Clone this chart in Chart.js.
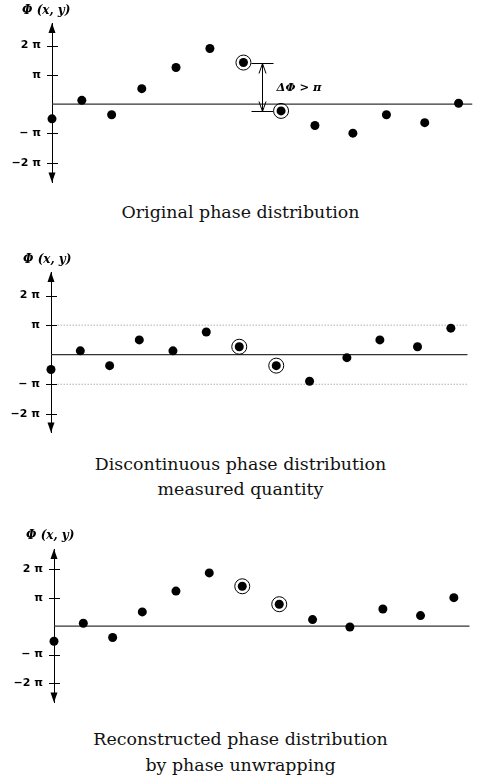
<!DOCTYPE html>
<html>
<head>
<meta charset="utf-8">
<script src="https://cdn.jsdelivr.net/npm/chart.js@4"></script>
<style>
  body { margin: 0; background: #fff; width: 481px; height: 780px; position: relative; overflow: hidden; }
  canvas { position: absolute; left: 0; }
  .caption { position: absolute; left: 0; width: 481px; text-align: center; font-family: 'DejaVu Serif', serif; font-size: 17.4px; color: #111; }
</style>
</head>
<body>
<canvas id="original" width="481" height="200" style="top:0"></canvas>
<div class="caption" style="top:200px; line-height:24px">Original phase distribution</div>

<canvas id="wrapped" width="481" height="200" style="top:250px"></canvas>
<div class="caption" style="top:452px; line-height:25px">Discontinuous phase distribution<br>measured quantity</div>

<canvas id="unwrapped" width="481" height="200" style="top:520px"></canvas>
<div class="caption" style="top:726px; line-height:26px">Reconstructed phase distribution<br>by phase unwrapping</div>

<script>
'use strict';

// sample positions along x (same for all three panels)
let samplePos = [0, 0.88, 1.76, 2.65, 3.66, 4.66, 5.65, 6.76, 7.76, 8.88, 9.87, 11.0, 12.0];

// phase values, in multiples of pi
let originalPhase = [-0.5, 0.13, -0.36, 0.53, 1.25, 1.9, 1.42, -0.23, -0.73, -0.99, -0.36, -0.63, 0.03];
let wrappedPhase = [-0.5, 0.13, -0.37, 0.5, 0.13, 0.77, 0.27, -0.37, -0.9, -0.1, 0.5, 0.27, 0.9];
let unwrappedPhase = [-0.53, 0.1, -0.4, 0.5, 1.23, 1.87, 1.4, 0.77, 0.23, -0.03, 0.6, 0.37, 1.0];

// the two neighbouring samples that are circled
let circled = [6, 7];

// y ticks
let tickValues = [-2, -1, 1, 2];
let tickLabels = ['\u22122 \u03c0', '\u2212 \u03c0', '\u03c0', '2 \u03c0'];

let axisLabel = '\u03a6 (x, y)';
let jumpLabel = '\u0394\u03a6 > \u03c0';


// arrows, tick crosses, axis label, jump annotation
let decor = {
  id: 'decor',
  afterDraw(chart, args, opts) {
    let ctx = chart.ctx;
    let area = chart.chartArea;
    let xs = chart.scales.x;
    let ys = chart.scales.y;
    let ax = area.left;
    ctx.save();
    ctx.fillStyle = '#000';
    ctx.strokeStyle = '#000';
    ctx.lineWidth = 1;

    // arrow heads on the y axis
    ctx.beginPath();
    ctx.moveTo(ax, area.top);
    ctx.lineTo(ax - 3.5, area.top + 10);
    ctx.lineTo(ax + 3.5, area.top + 10);
    ctx.closePath();
    ctx.fill();
    ctx.beginPath();
    ctx.moveTo(ax, area.bottom);
    ctx.lineTo(ax - 3.5, area.bottom - 10);
    ctx.lineTo(ax + 3.5, area.bottom - 10);
    ctx.closePath();
    ctx.fill();

    // tick marks crossing the axis
    tickValues.forEach(v => {
      let y = Math.round(ys.getPixelForValue(v)) + 0.5;
      ctx.beginPath();
      ctx.moveTo(ax - 5, y);
      ctx.lineTo(ax + 6, y);
      ctx.stroke();
    });

    // axis label
    ctx.font = 'bold italic 12px "DejaVu Serif"';
    ctx.textBaseline = 'middle';
    ctx.textAlign = 'left';
    ctx.fillText(axisLabel, opts.labelX, opts.labelY);

    if (opts.jump) {
      let v = opts.values;
      let i = circled[0];
      let j = circled[1];
      let y1 = Math.round(ys.getPixelForValue(v[i])) + 0.5;
      let y2 = Math.round(ys.getPixelForValue(v[j])) + 0.5;
      let xa = Math.round(xs.getPixelForValue(samplePos[i])) + 19.5;
      ctx.beginPath();
      ctx.moveTo(xs.getPixelForValue(samplePos[i]) + 8, y1);
      ctx.lineTo(xa + 11, y1);
      ctx.moveTo(xa - 11, y2);
      ctx.lineTo(xs.getPixelForValue(samplePos[j]) - 8, y2);
      ctx.moveTo(xa, y1);
      ctx.lineTo(xa, y2);
      // open arrow heads
      ctx.moveTo(xa - 3.5, y1 + 10);
      ctx.lineTo(xa, y1);
      ctx.lineTo(xa + 3.5, y1 + 10);
      ctx.moveTo(xa - 3.5, y2 - 10);
      ctx.lineTo(xa, y2);
      ctx.lineTo(xa + 3.5, y2 - 10);
      ctx.stroke();
      ctx.font = 'bold italic 11.5px "DejaVu Serif"';
      ctx.fillText(jumpLabel, xa + 14, (y1 + y2) / 2 + 1);
    }
    ctx.restore();
  }
};


function makePanel(id, values, cfg) {
  let points = values.map((v, i) => ({ x: samplePos[i], y: v }));
  let rings = circled.map(i => ({ x: samplePos[i], y: values[i] }));

  let datasets = [{
    data: points,
    pointRadius: 4.5,
    pointBackgroundColor: '#000',
    pointBorderWidth: 0,
    clip: false
  }, {
    data: rings,
    pointRadius: 7.5,
    pointBackgroundColor: 'rgba(0,0,0,0)',
    pointBorderColor: '#000',
    pointBorderWidth: 1,
    clip: false
  }, {
    data: [{ x: 0, y: 0 }, { x: cfg.lineEnd, y: 0 }],
    showLine: true,
    pointRadius: 0,
    borderColor: '#333',
    borderWidth: 1.2
  }];

  if (cfg.guides) {
    [1, -1].forEach(g => {
      datasets.push({
        data: [{ x: 0.2, y: g }, { x: cfg.lineEnd, y: g }],
        showLine: true,
        pointRadius: 0,
        borderColor: '#888',
        borderWidth: 1,
        borderDash: [1, 2]
      });
    });
  }

  // eslint-disable-next-line no-undef
  return new Chart(document.getElementById(id), {
    type: 'scatter',
    data: { datasets: datasets },
    options: {
      responsive: false,
      animation: false,
      events: [],
      layout: { padding: { top: cfg.top, bottom: cfg.bottom, left: 0, right: 0 } },
      plugins: {
        legend: { display: false },
        tooltip: { enabled: false },
        decor: { labelX: cfg.labelX, labelY: cfg.labelY, jump: cfg.jump, values: values }
      },
      scales: {
        x: { type: 'linear', display: false, min: 0, max: cfg.xMax },
        y: {
          min: cfg.yMin,
          max: cfg.yMax,
          afterFit: s => { s.width = cfg.axisX; },
          afterBuildTicks: s => { s.ticks = tickValues.map(v => ({ value: v })); },
          ticks: {
            callback: v => tickLabels[tickValues.indexOf(v)],
            color: '#000',
            padding: 11,
            font: { family: 'DejaVu Sans', size: 11, weight: 'bold' }
          },
          grid: { display: false, drawTicks: false },
          border: { display: true, color: '#000', width: 1 }
        }
      }
    },
    plugins: [decor]
  });
}

makePanel('original', originalPhase, {
  axisX: 52, top: 23, bottom: 12, yMin: -2.67, yMax: 2.77, xMax: 12.41, lineEnd: 12.41,
  labelX: 22, labelY: 11, jump: true
});
makePanel('wrapped', wrappedPhase, {
  axisX: 51, top: 22, bottom: 15, yMin: -2.63, yMax: 2.8, xMax: 12.65, lineEnd: 12.5,
  labelX: 23, labelY: 10, guides: true
});
makePanel('unwrapped', unwrappedPhase, {
  axisX: 54, top: 29, bottom: 8, yMin: -2.68, yMax: 2.71, xMax: 12.56, lineEnd: 12.47,
  labelX: 26, labelY: 16
});
</script>
</body>
</html>
